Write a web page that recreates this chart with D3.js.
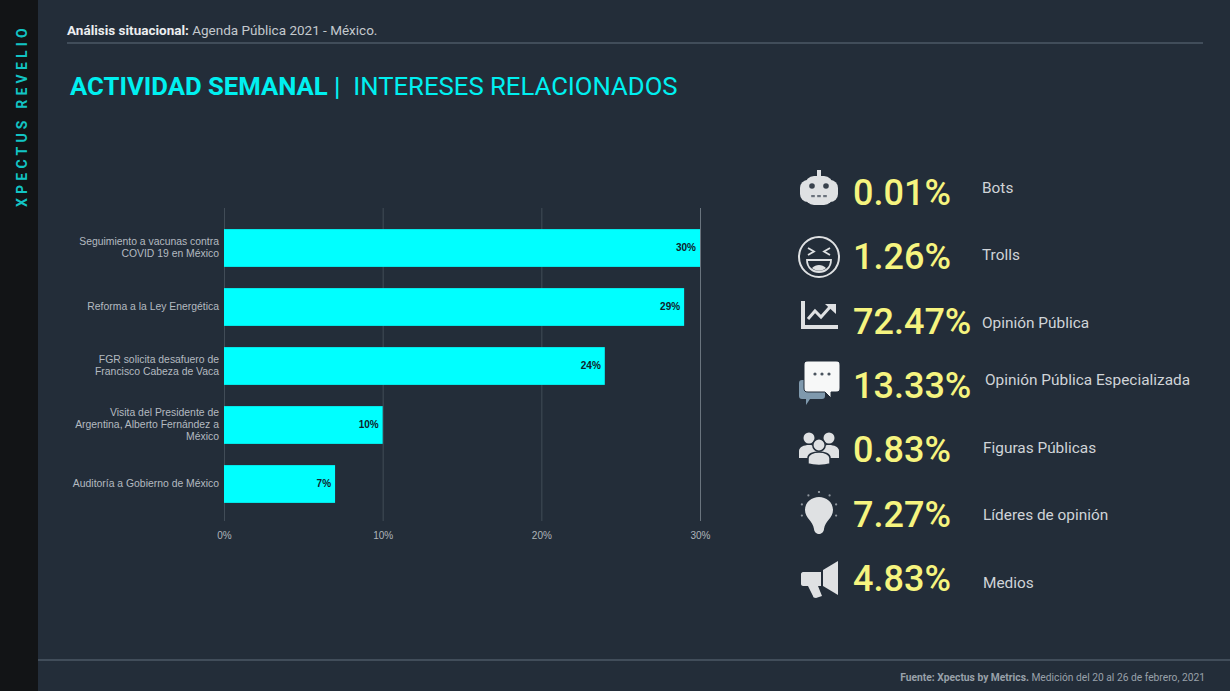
<!DOCTYPE html>
<html>
<head>
<meta charset="utf-8">
<script src="https://cdnjs.cloudflare.com/ajax/libs/d3/7.8.5/d3.min.js"></script>
<style>
html,body{margin:0;padding:0;background:#232d39;}
svg{display:block;font-family:Roboto,sans-serif;}
</style>
</head>
<body>
<svg id="chart" width="1230" height="691"></svg>
<script>
// chart data
var categories = [
  "Seguimiento a vacunas contra|COVID 19 en México",
  "Reforma a la Ley Energética",
  "FGR solicita desafuero de|Francisco Cabeza de Vaca",
  "Visita del Presidente de|Argentina, Alberto Fernández a|México",
  "Auditoría a Gobierno de México"
];
var shares = [30, 29, 24, 10, 7];
var xTicks = [0, 10, 20, 30];

// profile list on the right
var profiles = ["Bots", "Trolls", "Opinión Pública", "Opinión Pública Especializada", "Figuras Públicas", "Líderes de opinión", "Medios"];
var profileValues = ["0.01%", "1.26%", "72.47%", "13.33%", "0.83%", "7.27%", "4.83%"];
var profileIcons = ["bot", "troll", "trend", "chat", "people", "bulb", "horn"];

var bg = "#232d39", cyan = "#00ffff", iconCol = "#dfe1e3";
var svg = d3.select("#chart");

// frame
svg.append("rect").attr("width", 1230).attr("height", 691).attr("fill", bg);
svg.append("rect").attr("width", 38).attr("height", 691).attr("fill", "#121416");
svg.append("text").text("XPECTUS REVELIO")
  .attr("transform", "translate(27,207) rotate(-90)")
  .attr("fill", "#12c4c4").style("font-size", "14px").style("font-weight", 700)
  .style("letter-spacing", "4.2px");

var header = svg.append("text").attr("x", 67).attr("y", 35).attr("fill", "#c4c9ce").style("font-size", "13.5px");
header.append("tspan").text("Análisis situacional:").style("font-weight", 700).attr("fill", "#eceef0");
header.append("tspan").text(" Agenda Pública 2021 - México.");
svg.append("line").attr("x1", 67).attr("x2", 1203).attr("y1", 43).attr("y2", 43).attr("stroke", "#4d5966").attr("stroke-width", 1.5);

var title = svg.append("text").attr("x", 70).attr("y", 95).attr("fill", "#00f0f0").style("font-size", "25.7px").style("white-space", "pre");
title.append("tspan").text("ACTIVIDAD SEMANAL").style("font-weight", 700);
title.append("tspan").text(" |").style("font-weight", 500);
title.append("tspan").text("  INTERESES RELACIONADOS").style("font-weight", 400);

svg.append("line").attr("x1", 38).attr("x2", 1230).attr("y1", 660).attr("y2", 660).attr("stroke", "#4d5966").attr("stroke-width", 1.5);
var foot = svg.append("text").attr("x", 1205).attr("y", 681).attr("text-anchor", "end").attr("fill", "#99a1aa").style("font-size", "10.25px");
foot.append("tspan").text("Fuente: Xpectus by Metrics.").style("font-weight", 700);
foot.append("tspan").text(" Medición del 20 al 26 de febrero, 2021");

// bars
var x = d3.scaleLinear().domain([0, 30]).range([224, 700]);
var y = d3.scaleBand().domain(categories).range([218.5, 513.5]).paddingInner(0.36).paddingOuter(0.18);
var sans = "'Liberation Sans',Arial,sans-serif";

var xAxis = svg.append("g").attr("transform", "translate(0,521)")
  .call(d3.axisBottom(x).tickValues(xTicks).tickFormat(function(d){return d+"%"}).tickSize(-313).tickPadding(11));
xAxis.select(".domain").remove();
xAxis.selectAll("line").attr("stroke", function(d){return d==30?"#6a747e":"#414c57"});
xAxis.selectAll("text").attr("fill", "#aeb4ba").style("font-family", sans).style("font-size", "10px");

svg.selectAll(".bar").data(shares).enter().append("rect")
  .attr("class", "bar")
  .attr("x", x(0))
  .attr("y", function(d, i){return y(categories[i])})
  .attr("width", function(d){return x(d)-x(0)})
  .attr("height", y.bandwidth())
  .attr("fill", cyan);

svg.selectAll(".barlabel").data(shares).enter().append("text")
  .attr("class", "barlabel")
  .attr("x", function(d){return x(d)-4})
  .attr("y", function(d, i){return y(categories[i])+y.bandwidth()/2+3})
  .attr("text-anchor", "end")
  .attr("fill", "#10222a")
  .style("font-family", sans).style("font-size", "10px").style("font-weight", 700)
  .text(function(d){return d+"%"});

var yAxis = svg.append("g").attr("transform", "translate(224,0)")
  .call(d3.axisLeft(y).tickSize(0).tickPadding(5));
yAxis.select(".domain").remove();
yAxis.selectAll("text").each(function(d){
  var lines = d.split("|");
  var t = d3.select(this).text(null).attr("dy", null).attr("fill", "#b4bac0").style("font-family", sans).style("font-size", "10.4px");
  lines.forEach(function(l, i){
    t.append("tspan").attr("x", -5).attr("y", (i-(lines.length-1)/2)*12.2+3).text(l);
  });
});

// right hand list
var rowY = d3.scalePoint().domain(profiles).range([192, 578]);
var labelNudge = [-4, -1, 2, -5, -1, 1, 5];
var labelX = [982, 982, 982, 985, 983, 983, 983];

svg.selectAll(".pval").data(profileValues).enter().append("text")
  .attr("class", "pval")
  .attr("x", 853)
  .attr("y", function(d, i){return rowY(profiles[i])+13})
  .attr("fill", "#f6f47f")
  .style("font-size", "36px")
  .style("font-weight", 500)
  .text(function(d){return d});

svg.selectAll(".plabel").data(profiles).enter().append("text")
  .attr("class", "plabel")
  .attr("x", function(d, i){return labelX[i]})
  .attr("y", function(d, i){return rowY(d)+labelNudge[i]+5})
  .attr("fill", "#d0d4d8")
  .style("font-size", "15.4px")
  .text(function(d){return d});

// icons, drawn around a local origin
var icons = {
  bot:function(g){
    g.append("rect").attr("x", -2).attr("y", -20).attr("width", 4).attr("height", 8).attr("fill", iconCol);
    g.append("rect").attr("x", -19).attr("y", -10).attr("width", 38).attr("height", 22).attr("rx", 8).attr("fill", iconCol);
    g.append("rect").attr("x", -14).attr("y", -14).attr("width", 28).attr("height", 29).attr("rx", 9).attr("fill", iconCol);
    [-7, 7].forEach(function(d){g.append("circle").attr("cx", d).attr("cy", -4).attr("r", 2.8).attr("fill", "#39424d")});
    [-6, 0, 6].forEach(function(d){g.append("rect").attr("x", d-1.8).attr("y", 5).attr("width", 3.6).attr("height", 2.2).attr("fill", "#6a727c")});
  },
  troll:function(g){
    g.append("circle").attr("r", 20).attr("fill", "none").attr("stroke", iconCol).attr("stroke-width", 2);
    var eye = g.append("g").attr("fill", "none").attr("stroke", iconCol).attr("stroke-width", 1.8);
    eye.append("path").attr("d", "M-11,-9L-5,-5.5L-11,-2");
    eye.append("path").attr("d", "M11,-9L5,-5.5L11,-2");
    g.append("path").attr("d", "M-12,3H12C12,11 6,15 0,15C-6,15 -12,11 -12,3Z").attr("fill", "none").attr("stroke", iconCol).attr("stroke-width", 1.8);
    g.append("path").attr("d", "M-7,11C-3,7 3,7 7,11C3,14.5 -3,14.5 -7,11Z").attr("fill", iconCol);
  },
  trend:function(g){
    g.append("path").attr("d", "M-16,-17V9H19").attr("fill", "none").attr("stroke", iconCol).attr("stroke-width", 4);
    g.append("path").attr("d", "M-11,1L-4,-7L2,-1L11,-11").attr("fill", "none").attr("stroke", iconCol).attr("stroke-width", 3);
    g.append("path").attr("d", "M6,-14H17V-4Z").attr("fill", iconCol);
  },
  chat:function(g){
    g.append("path").attr("d", "M-17,-5H3C5,-5 6,-4 6,-2V11C6,13 5,14 3,14H-9L-13,20V14H-17C-19,14 -20,13 -20,11V-2C-20,-4 -19,-5 -17,-5Z").attr("fill", "#7f99ad");
    g.append("path").attr("d", "M-11,-24H17C20,-24 21,-23 21,-20V3C21,6 20,7 17,7H12V13L6,7H-11C-14,7 -15,6 -15,3V-20C-15,-23 -14,-24 -11,-24Z").attr("fill", "#f7f8f8").attr("stroke", bg).attr("stroke-width", 1);
    [-4, 3, 10].forEach(function(d){g.append("circle").attr("cx", d).attr("cy", -11).attr("r", 1.6).attr("fill", "#4a545f")});
  },
  people:function(g){
    [-10, 10].forEach(function(d){
      g.append("circle").attr("cx", d).attr("cy", -11).attr("r", 5.5).attr("fill", iconCol);
      g.append("path").attr("d", "M"+(d-10)+",9V2C"+(d-10)+",-6 "+(d+10)+",-6 "+(d+10)+",2V9Z").attr("fill", iconCol);
    });
    g.append("circle").attr("cy", -4).attr("r", 6.2).attr("fill", iconCol).attr("stroke", bg).attr("stroke-width", 1.5);
    g.append("path").attr("d", "M-11,15V9C-11,1 11,1 11,9V15C5,17 -5,17 -11,15Z").attr("fill", iconCol).attr("stroke", bg).attr("stroke-width", 1.5);
  },
  bulb:function(g){
    g.append("path").attr("d", "M-14,-5C-14,-13 -7,-18 0,-18C7,-18 14,-13 14,-5C14,3 6,6 5,14C5,17 2,19 0,19C-2,19 -5,17 -5,14C-6,6 -14,3 -14,-5Z").attr("fill", iconCol);
    d3.range(-90, 271, 36).filter(function(a){return a<=36||a>=144}).forEach(function(a){
      var r = a*Math.PI/180;
      g.append("circle").attr("cx", 18*Math.cos(r)).attr("cy", -5+18*Math.sin(r)).attr("r", 1.1).attr("fill", "#8d949c");
    });
  },
  horn:function(g){
    g.append("path").attr("d", "M19,-18V16L4,7V-9Z").attr("fill", iconCol);
    g.append("path").attr("d", "M-16,-7H2V7H-16C-17,7 -18,6 -18,5V-5C-18,-6 -17,-7 -16,-7Z").attr("fill", iconCol);
    g.append("path").attr("d", "M-11,7H-1L3,17L-3,19C-5,19 -6,18 -6,17Z").attr("fill", iconCol);
  }
};
var iconY = [190, 257, 318, 385, 449, 515, 579];
profileIcons.forEach(function(name, i){
  icons[name](svg.append("g").attr("transform", "translate(819,"+iconY[i]+")"));
});
</script>
</body>
</html>
